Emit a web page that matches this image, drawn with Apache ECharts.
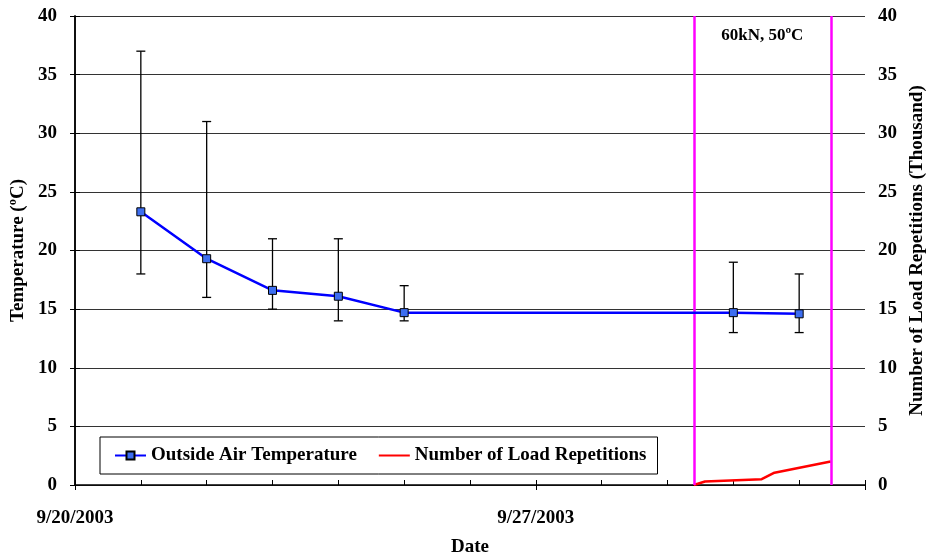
<!DOCTYPE html>
<html><head><meta charset="utf-8">
<script src="https://cdn.jsdelivr.net/npm/echarts@6/dist/echarts.min.js"></script>
<style>html,body{margin:0;padding:0;background:#fff}#c{width:926px;height:557px}</style>
</head><body><div id="c"></div>
<script>
// ---- data ----
const startDate = '2003-09-20 00:00';
const tempDates = ['2003-09-21 00:00','2003-09-22 00:00','2003-09-23 00:00','2003-09-24 00:00','2003-09-25 00:00','2003-09-30 00:00','2003-10-01 00:00'];
const tempValues = [23.3, 19.3, 16.6, 16.1, 14.7, 14.7, 14.6];
const tempLow = [18, 16, 15, 14, 14, 13, 13];
const tempHigh = [37, 31, 21, 21, 17, 19, 18];
const loadDates = ['2003-09-29 09:36','2003-09-29 13:40','2003-09-30 10:20','2003-09-30 15:00','2003-10-01 11:30'];
const loadValues = [0, 0.3, 0.5, 1.05, 2.0];
const testWindow = ['2003-09-29 09:36','2003-10-01 11:30'];
const testLabel = '60kN, 50ºC';
const xLabels = {0:'9/20/2003', 7:'9/27/2003'};

function toDay(s){
  const [d,t]=s.split(' ');const [Y,M,D]=d.split('-').map(Number);const [h,m]=t.split(':').map(Number);
  const [d0]=startDate.split(' ');const [Y0,M0,D0]=d0.split('-').map(Number);
  return (Date.UTC(Y,M-1,D,h,m)-Date.UTC(Y0,M0-1,D0,0,0))/86400000;
}
const tempData = tempDates.map((d,i)=>[toDay(d), tempValues[i]]);
const errData = tempDates.map((d,i)=>[toDay(d), tempLow[i], tempHigh[i]]);
const loadData = loadDates.map((d,i)=>[toDay(d), loadValues[i]]);
const win = testWindow.map(toDay);

const FONT = '"Liberation Serif", "Times New Roman", serif';
const FS = 19;
const chart = echarts.init(document.getElementById('c'));
chart.setOption({
  animation:false,
  grid:{left:75,right:61,top:16,bottom:72,outerBoundsMode:'none',containLabel:false},
  textStyle:{fontFamily:FONT},
  legend:{
    left:100, top:437,
    padding:[9,11,9,14], itemGap:21, itemWidth:31, itemHeight:10,
    borderColor:'#000', borderWidth:1, backgroundColor:'#fff',
    textStyle:{fontFamily:FONT,fontWeight:'bold',fontSize:FS,color:'#000'},
    data:[{name:'Outside Air Temperature'},{name:'Number of Load Repetitions',itemStyle:{opacity:0}}]
  },
  xAxis:[{
    type:'value', min:0, max:12, interval:1,
    name:'Date', nameLocation:'middle', nameGap:53,
    nameTextStyle:{fontFamily:FONT,fontWeight:'bold',fontSize:FS,color:'#000'},
    axisLine:{onZero:false,lineStyle:{color:'#000',width:1.5}},
    axisTick:{inside:true,length:5,lineStyle:{color:'#000'}},
    splitLine:{show:false},
    axisLabel:{margin:24,fontFamily:FONT,fontWeight:'bold',fontSize:FS,color:'#000',
      formatter:v=>xLabels[v]||''}
  },{
    type:'value', min:0, max:12, interval:7, position:'bottom',
    axisLine:{show:false}, axisTick:{show:true,length:5,lineStyle:{color:'#000'}},
    axisLabel:{show:false}, splitLine:{show:false}
  }],
  yAxis:[{
    type:'value', min:0, max:40, interval:5,
    name:'Temperature (ºC)', nameLocation:'middle', nameGap:46, nameRotate:90,
    nameTextStyle:{fontFamily:FONT,fontWeight:'bold',fontSize:FS,color:'#000'},
    axisLine:{show:true,lineStyle:{color:'#000',width:1.5}},
    axisTick:{show:true,length:5,lineStyle:{color:'#000'}},
    axisLabel:{margin:18,fontFamily:FONT,fontWeight:'bold',fontSize:FS,color:'#000'},
    splitLine:{show:true,lineStyle:{color:'#333',width:1}}
  },{
    type:'value', min:0, max:40, interval:5, position:'right',
    name:'Number of Load Repetitions (Thousand)', nameLocation:'middle', nameGap:38, nameRotate:90,
    nameTextStyle:{fontFamily:FONT,fontWeight:'bold',fontSize:FS,color:'#000'},
    axisLine:{show:true,lineStyle:{color:'#000',width:1.5}},
    axisTick:{show:true,length:5,lineStyle:{color:'#000'}},
    axisLabel:{margin:13,fontFamily:FONT,fontWeight:'bold',fontSize:FS,color:'#000'},
    splitLine:{show:false}
  }],
  series:[{
    name:'Number of Load Repetitions', type:'line', yAxisIndex:1, data:loadData,
    symbol:'circle', symbolSize:0, showSymbol:false, color:'#ff0000', lineStyle:{color:'#ff0000',width:2.5}, z:3,
    markLine:{silent:true,symbol:'none',label:{show:false},
      lineStyle:{color:'#ff00ff',width:2.5,type:'solid'},
      data:win.map(v=>({xAxis:v}))},
    markPoint:{symbol:'circle',symbolSize:0,
      data:[{coord:[(win[0]+win[1])/2, 38.3], value:testLabel}],
      label:{show:true,formatter:testLabel,fontFamily:FONT,fontWeight:'bold',fontSize:17,color:'#000'}}
  },{
    name:'errbars', type:'custom', data:errData, z:4,
    renderItem:(params,api)=>{
      const x=api.value(0), lo=api.coord([x,api.value(1)]), hi=api.coord([x,api.value(2)]);
      const w=4.5, st={stroke:'#000',lineWidth:1.3};
      return {type:'group',children:[
        {type:'line',shape:{x1:lo[0],y1:lo[1],x2:hi[0],y2:hi[1]},style:st},
        {type:'line',shape:{x1:lo[0]-w,y1:lo[1],x2:lo[0]+w,y2:lo[1]},style:st},
        {type:'line',shape:{x1:hi[0]-w,y1:hi[1],x2:hi[0]+w,y2:hi[1]},style:st}
      ]};
    },
    encode:{x:0,y:[1,2]}
  },{
    name:'Outside Air Temperature', type:'line', data:tempData, z:5,
    color:'#0000ff',
    lineStyle:{color:'#0000ff',width:2.5},
    symbol:'rect', symbolSize:8,
    itemStyle:{color:'#3d6ef0',borderColor:'#000',borderWidth:1}
  }]
});
</script></body></html>
